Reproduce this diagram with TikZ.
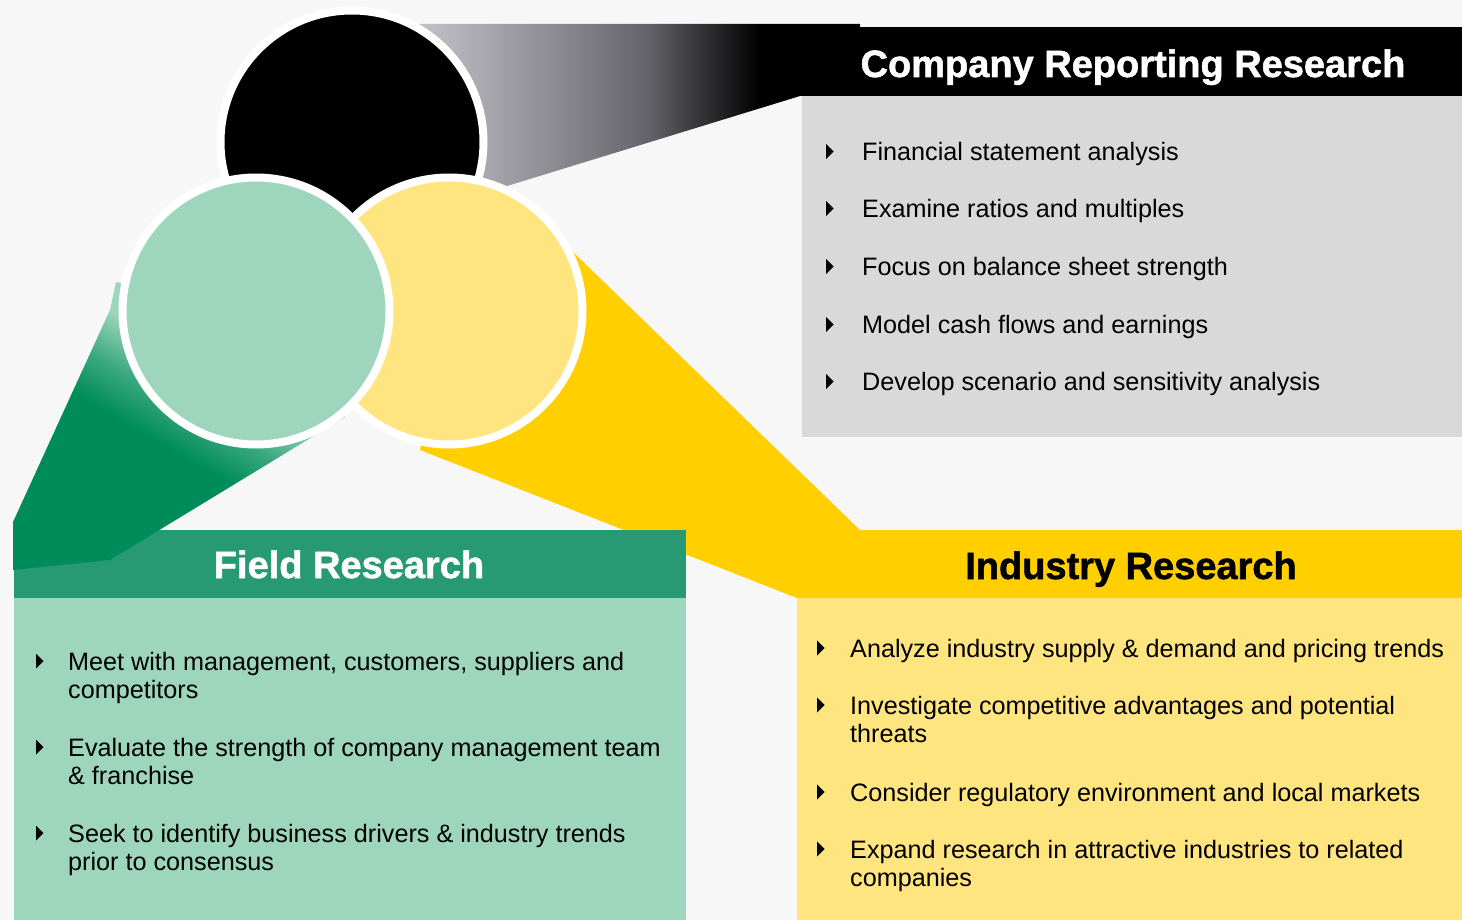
\documentclass[tikz,border=0pt]{standalone}
\usepackage{fontspec}
\setmainfont{Liberation Sans}
\newfontfamily\headfont[FakeBold=1.4]{Liberation Sans Bold}
\usetikzlibrary{positioning}

\definecolor{canvas}{HTML}{F7F7F7}
\definecolor{fieldgreen}{HTML}{279A74}
\definecolor{fieldlight}{HTML}{9DD6BD}
\definecolor{beamgreen}{HTML}{008C5A}
\definecolor{beammidgreen}{HTML}{3AA880}
\definecolor{indyellow}{HTML}{FFCF00}
\definecolor{indlight}{HTML}{FFE580}
\definecolor{repgrey}{HTML}{D9D9D9}
\definecolor{beamgrey}{HTML}{C6C6CC}
\definecolor{beammidgrey}{HTML}{66666C}

\pgfdeclarehorizontalshading{greybeam}{100bp}{color(0bp)=(beamgrey); color(25bp)=(beamgrey); color(51bp)=(beammidgrey); color(64bp)=(black); color(100bp)=(black)}
\pgfdeclareverticalshading{greenbeam}{100bp}{color(0bp)=(beamgreen); color(46bp)=(beamgreen); color(53bp)=(beammidgreen); color(61bp)=(fieldlight); color(100bp)=(fieldlight)}

\newcommand{\itembox}[1]{\parbox[t]{620pt}{\raggedright #1}}

\begin{document}
\begin{tikzpicture}[x=1pt, y=-1pt,
    ring/.style={circle, draw=white, line width=8pt, inner sep=0pt},
    head/.style={font=\headfont\fontsize{38}{40}\selectfont, anchor=base, inner sep=0pt},
    item/.style={anchor=base west, inner sep=0pt, font=\fontsize{25.2}{28.7}\selectfont}]

\useasboundingbox (0,0) rectangle (1462,920);
\fill[canvas] (0,0) rectangle (1462,920);

% beams
\fill[indyellow] (449,311) -- (573,252) -- (860,530) -- (860,598) -- (797,598) -- (420,450) -- cycle;
\shade[shading=greybeam] (410,24) -- (860,24) -- (860,96) -- (800,96) -- (507,186) -- (470,196) -- cycle;

% panels
\fill[black] (800,27) rectangle (1462,96);
\fill[repgrey] (802,96) rectangle (1462,437);
\fill[fieldgreen] (14,530) rectangle (686,598);
\fill[fieldlight] (14,598) rectangle (686,920);
\fill[indyellow] (797,530) rectangle (1462,598);
\fill[indlight] (797,598) rectangle (1462,920);

\shade[shading=greenbeam, shading angle=-30] (256,311) -- (116,282) -- (110,310) -- (13,522)
  -- (13,570) -- (110,560) -- (345,417) -- cycle;

% circles
\node[ring, fill=black, minimum size=263pt] (reporting) at (352,142) {};
\node[ring, fill=indlight, minimum size=267pt] (industry) at (449,311) {};
\node[ring, fill=fieldlight, minimum size=267pt] (field) at (256,311) {};

% headings
\node[head, text=white] (crhead) at (1133,77) {Company Reporting Research};
\node[head, text=white] (fieldhead) at (349,578) {Field Research};
\node[head, text=black] (indhead) at (1131,579) {Industry Research};

% company reporting
\node[item] (cr1) at (862,160.5) {Financial statement analysis};
\node[item] (cr2) at (862,217.5) {Examine ratios and multiples};
\node[item] (cr3) at (862,275.5) {Focus on balance sheet strength};
\node[item] (cr4) at (862,333.5) {Model cash flows and earnings};
\node[item] (cr5) at (862,390.5) {Develop scenario and sensitivity analysis};

% field
\node[item] (fd1) at (68,670) {\itembox{Meet with management, customers, suppliers and\\competitors}};
\node[item] (fd2) at (68,756) {\itembox{Evaluate the strength of company management team\\\& franchise}};
\node[item] (fd3) at (68,842) {\itembox{Seek to identify business drivers \& industry trends\\prior to consensus}};

% industry
\node[item] (in1) at (850,657) {Analyze industry supply \& demand and pricing trends};
\node[item] (in2) at (850,714) {\itembox{Investigate competitive advantages and potential\\threats}};
\node[item] (in3) at (850,801) {Consider regulatory environment and local markets};
\node[item] (in4) at (850,858) {\itembox{Expand research in attractive industries to related\\companies}};

\foreach \n in {cr1,cr2,cr3,cr4,cr5}
  \fill ([xshift=-36pt,yshift=16.5pt]\n.base west) -- ++(7.5,7.5) -- ++(-7.5,7.5) -- cycle;
\foreach \n in {fd1,fd2,fd3}
  \fill ([xshift=-32pt,yshift=16.5pt]\n.base west) -- ++(7.5,7.5) -- ++(-7.5,7.5) -- cycle;
\foreach \n in {in1,in2,in3,in4}
  \fill ([xshift=-33pt,yshift=16.5pt]\n.base west) -- ++(7.5,7.5) -- ++(-7.5,7.5) -- cycle;

\end{tikzpicture}
\end{document}
